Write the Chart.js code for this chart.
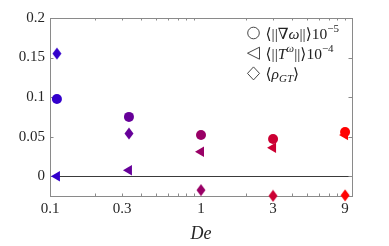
<!DOCTYPE html>
<html>
<head>
<meta charset="utf-8">
<script src="https://cdn.jsdelivr.net/npm/chart.js@4/dist/chart.umd.min.js"></script>
<style>
  body { margin: 0; background: #fff; }
  #wrap { width: 389px; height: 246px; }
</style>
</head>
<body>
<div id="wrap"><canvas id="chart"></canvas></div>
<script>
// Deborah numbers and the three measured quantities
var de = [1 / 9, 1 / 3, 1, 3, 9];
var gradOmega = [0.0975, 0.075, 0.052, 0.047, 0.056];   // <||grad w||> 1e-5
var tOmega = [0.0, 0.0075, 0.031, 0.036, 0.052];        // <||T^w||> 1e-4
var rhoGT = [0.155, 0.054, -0.0175, -0.0248, -0.0242];  // <rho_GT>

var xTicks = [0.1, 0.3, 1, 3, 9];
var xTickLabels = ['0.1', '0.3', '1', '3', '9'];
var yTicks = [0, 0.05, 0.1, 0.15, 0.2];
var yTickLabels = ['0', '0.05', '0.1', '0.15', '0.2'];

var pointColors = ['#3300cc', '#660099', '#990066', '#cc0033', '#ff0000'];
var serif = "'Liberation Serif', 'DejaVu Serif', serif";

// diamond marker (taller than wide, like matlab)
function diamond(color) {
    var c = document.createElement('canvas');
    c.width = 10; c.height = 13;
    var g = c.getContext('2d');
    g.fillStyle = color;
    g.beginPath();
    g.moveTo(5, 0.5); g.lineTo(9.5, 6.5); g.lineTo(5, 12.5); g.lineTo(0.5, 6.5);
    g.closePath();
    g.fill();
    return c;
}

function points(ys) {
    return de.map(function (x, i) { return {x: x, y: ys[i]}; });
}

// frame, inward ticks, zero line
var framePlugin = {
    id: 'frame',
    beforeDatasetsDraw: function (chart) {
        var ctx = chart.ctx, a = chart.chartArea;
        var xs = chart.scales.x, ys = chart.scales.y;
        ctx.save();
        ctx.lineWidth = 1;
        ctx.strokeStyle = '#3a3a3a';
        var y0 = Math.round(ys.getPixelForValue(0)) + 0.5;
        ctx.beginPath(); ctx.moveTo(a.left, y0); ctx.lineTo(a.right, y0); ctx.stroke();

        ctx.strokeStyle = '#8a8a8a';
        ctx.strokeRect(Math.round(a.left) + 0.5, Math.round(a.top) + 0.5,
            Math.round(a.right - a.left), Math.round(a.bottom - a.top));
        ctx.beginPath();
        var minor = [];
        [0.1, 1].forEach(function (d) { for (var k = 2; k <= 9; k++) minor.push(k * d); });
        minor.forEach(function (v) {
            var px = Math.round(xs.getPixelForValue(v)) + 0.5;
            ctx.moveTo(px, a.bottom); ctx.lineTo(px, a.bottom - 2.5);
            ctx.moveTo(px, a.top); ctx.lineTo(px, a.top + 2.5);
        });
        yTicks.forEach(function (v) {
            var py = Math.round(ys.getPixelForValue(v)) + 0.5;
            ctx.moveTo(a.left, py); ctx.lineTo(a.left + 3.5, py);
            ctx.moveTo(a.right, py); ctx.lineTo(a.right - 3.5, py);
        });
        ctx.stroke();
        ctx.restore();
    }
};

// legend drawn as text with sub/superscripts
var legendRows = [
    {sym: 'circle', parts: [{t: '\u27e8||\u2207'}, {t: '\u03c9', it: 1}, {t: '||\u27e910'}, {t: '\u22125', sup: 1}]},
    {sym: 'tri', parts: [{t: '\u27e8||'}, {t: 'T', it: 1}, {t: '\u03c9', it: 1, sup: 1}, {t: '||\u27e910'}, {t: '\u22124', sup: 1}]},
    {sym: 'diamond', parts: [{t: '\u27e8'}, {t: '\u03c1', it: 1}, {t: 'GT', it: 1, sub: 1}, {t: '\u27e9'}]}
];

var legendPlugin = {
    id: 'texLegend',
    afterDraw: function (chart) {
        var ctx = chart.ctx;
        ctx.save();
        legendRows.forEach(function (row, r) {
            var cy = 33 + r * 20.2;
            var sx = 253.5;
            ctx.strokeStyle = '#333';
            ctx.lineWidth = 0.9;
            ctx.beginPath();
            if (row.sym === 'circle') {
                ctx.arc(sx, cy, 5.8, 0, Math.PI * 2);
            } else if (row.sym === 'tri') {
                ctx.moveTo(sx - 6, cy); ctx.lineTo(sx + 6, cy - 6); ctx.lineTo(sx + 6, cy + 6); ctx.closePath();
            } else {
                ctx.moveTo(sx, cy - 6.5); ctx.lineTo(sx + 6, cy); ctx.lineTo(sx, cy + 6.5); ctx.lineTo(sx - 6, cy); ctx.closePath();
            }
            ctx.stroke();

            var x = 265.5, base = cy + 5.5;
            ctx.fillStyle = '#222';
            ctx.textBaseline = 'alphabetic';
            row.parts.forEach(function (p) {
                var size = (p.sup || p.sub) ? 11 : 15.5;
                ctx.font = (p.it ? 'italic ' : '') + size + 'px ' + serif;
                var y = base + (p.sup ? -6.5 : p.sub ? 3 : 0);
                ctx.fillText(p.t, x, y);
                x += ctx.measureText(p.t).width;
            });
        });
        ctx.restore();
    }
};

var ctx = document.getElementById('chart').getContext('2d');
var chart = new Chart(ctx, {
    type: 'scatter',
    data: {
        datasets: [{
            label: 'gradOmega',
            data: points(gradOmega),
            pointStyle: 'circle',
            pointRadius: 5,
            backgroundColor: pointColors,
            borderWidth: 0,
            clip: false
        }, {
            label: 'tOmega',
            data: points(tOmega),
            pointStyle: 'triangle',
            rotation: -90,
            pointRadius: 6,
            backgroundColor: pointColors,
            borderWidth: 0,
            clip: false
        }, {
            label: 'rhoGT',
            data: points(rhoGT),
            pointStyle: pointColors.map(diamond),
            pointRadius: 6,
            backgroundColor: pointColors,
            borderWidth: 0,
            clip: false
        }]
    },
    options: {
        responsive: true,
        maintainAspectRatio: false,
        animation: false,
        layout: {padding: {left: 0, top: 18, right: 37, bottom: 0}},
        plugins: {legend: {display: false}, tooltip: {enabled: false}},
        scales: {
            x: {
                type: 'logarithmic',
                min: 0.1,
                max: 10,
                grid: {display: false, drawTicks: false},
                border: {display: false},
                afterBuildTicks: function (s) { s.ticks = xTicks.map(function (v) { return {value: v}; }); },
                afterFit: function (s) { s.height = 50; },
                ticks: {
                    autoSkip: false, maxRotation: 0, padding: 4, color: '#262626',
                    font: {family: serif, size: 15},
                    callback: function (v, i) { return xTickLabels[i]; }
                },
                title: {
                    display: true, text: 'De', color: '#262626', padding: {top: 0, bottom: 1},
                    font: {family: serif, size: 18, style: 'italic'}
                }
            },
            y: {
                min: -0.025,
                max: 0.2,
                grid: {display: false, drawTicks: false},
                border: {display: false},
                afterBuildTicks: function (s) { s.ticks = yTicks.map(function (v) { return {value: v}; }); },
                afterFit: function (s) { s.width = 50; },
                ticks: {
                    padding: 5, color: '#262626',
                    font: {family: serif, size: 15},
                    callback: function (v, i) { return yTickLabels[i]; }
                }
            }
        }
    },
    plugins: [framePlugin, legendPlugin]
});
</script>
</body>
</html>
